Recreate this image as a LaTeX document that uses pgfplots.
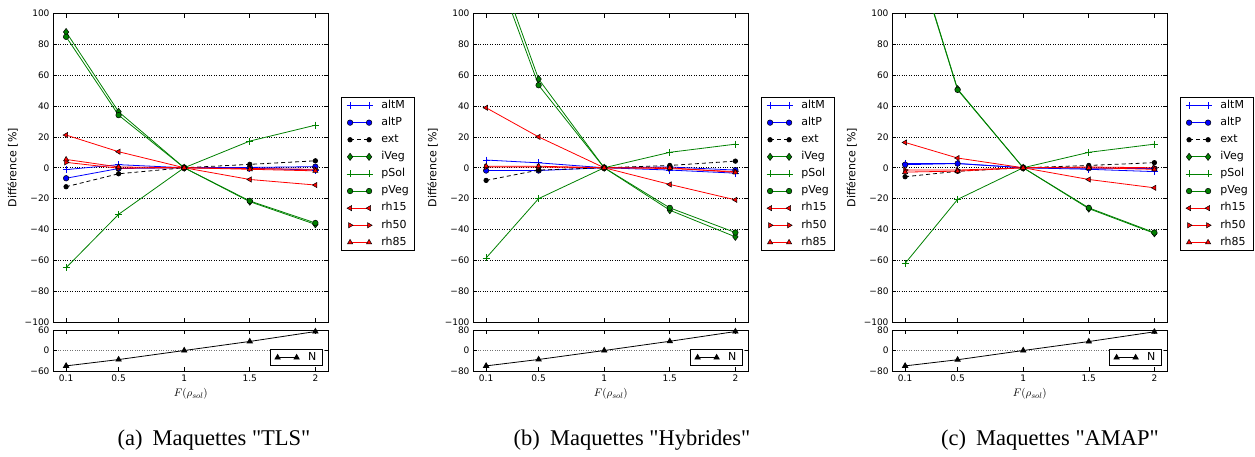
\documentclass[border=0pt]{standalone}
\usepackage{fontspec}
\setmainfont{DejaVu Sans}
\newfontfamily\capfont{Liberation Serif}
\usepackage{graphicx}
\usepackage{pgfplots}
\usepackage{pgfplotstable}
\pgfplotsset{compat=1.18}

\definecolor{mgreen}{rgb}{0,0.5,0}
\definecolor{mblue}{rgb}{0,0,1}
\definecolor{mred}{rgb}{1,0,0}

\pgfplotstableread{
x   altM altP ext   iVeg  pSol  pVeg  rh15  rh50 rh85 N
0.1 -1.2 -6.8 -12.3 88    -64.8 84.9  21.2  3.5  5.4  -45
0.5 2.0  -0.5 -3.9  36.3  -30.2 34.1  10.4  -0.3 0.5  -26.5
1   0    0    0     0     0     0     0     0    0    0
1.5 -0.3 0.2  2.2   -22.0 17.3  -21.5 -7.6  -0.5 -1.0 26.5
2   -1.5 0.7  4.5   -36.7 27.6  -35.8 -11.2 -1.0 -2.0 55.5
}\tabA

\pgfplotstableread{
x   altM altP ext  iVeg  pSol  pVeg  rh15  rh50 rh85 N
0.1 5.0  -1.8 -8.2 152   -58.5 146   38.9  0.5  1.0  -60
0.5 3.2  -1.8 -1.5 57.5  -20.0 53.5  20.0  0.5  1.0  -35
1   0    0    0    0     0     0     0     0    0    0
1.5 -1.5 0.5  1.5  -27.5 10.0  -26.0 -10.8 -0.5 0.0  36
2   -3.5 -1.5 4.3  -44.8 15.3  -42.0 -20.8 -2.5 -3.0 74
}\tabB

\pgfplotstableread{
x   altM altP ext  iVeg  pSol  pVeg  rh15  rh50 rh85 N
0.1 2.8  2.0  -5.8 161   -62.0 160   16.4  -1.5 -2.8 -60
0.5 2.8  2.7  -2.3 51.0  -20.5 50.5  6.3   -1.5 -2.2 -36
1   0    0    0    0     0     0     0     0    0    0
1.5 -1.0 -0.3 1.5  -26.5 10.0  -26.0 -7.6  0.5  0.0  35
2   -2.5 -0.5 3.3  -42.5 15.3  -42.0 -13.0 0.0  -1.0 73
}\tabC

\pgfplotsset{
  common/.style={
    scale only axis, width=275.5pt, anchor=north west,
    xmin=0, xmax=2.1,
    xtick={0.1,0.5,1,1.5,2},
    tick align=inside, major tick length=4pt,
    tick style={black, line width=0.6pt},
    axis line style={line width=0.8pt},
    tick label style={font=\fontsize{9}{10}\selectfont},
    label style={font=\fontsize{11}{13}\selectfont},
    legend cell align=left,
    legend image code/.code={%
      \draw[mark repeat=2,mark phase=1,##1]
        plot coordinates {(0pt,0pt) (9.5pt,0pt) (19pt,0pt)};},
    legend style={draw=black, line width=0.8pt, fill=white,
      font=\fontsize{11}{12}\selectfont,
      nodes={inner sep=0.8pt, text height=8pt, text depth=2.5pt, line width=0.8pt},
      row sep=5pt, column sep=8pt, inner xsep=5pt, inner ysep=2pt},
  },
  mainax/.style={
    common, height=308.5pt,
    ymin=-100, ymax=100,
    xticklabels={},
    ytick={-100,-80,-60,-40,-20,0,20,40,60,80,100},
    yticklabels={−100,−80,−60,−40,−20,0,20,40,60,80,100},
    ymajorgrids,
    major grid style={black, dotted, line width=0.7pt},
    ylabel={Différence [\%]},
    legend style={at={(1.046,0.729)}, anchor=north west},
  },
  botax/.style={
    common, height=41pt,
    xticklabels={0.1,0.5,1,1.5,2},
    ymajorgrids,
    major grid style={black!55, dotted, line width=0.7pt},
    xlabel={$F(\rho_{sol})$},
    legend style={at={(0.978,0.122)}, anchor=south east},
  },
  sAltM/.style={mblue, line width=0.8pt, mark=+, mark size=3.5pt, mark options={solid, line width=0.7pt}},
  sAltP/.style={mblue, line width=0.8pt, mark=*, mark size=2.8pt, mark options={solid, fill=mblue, draw=black, line width=0.5pt}},
  sExt/.style={black, line width=0.8pt, dashed, dash pattern=on 4pt off 3pt, mark=*, mark size=2.2pt, mark options={solid, fill=black}},
  sIVeg/.style={mgreen, line width=0.8pt, mark=diamond*, mark size=3.6pt, mark options={solid, fill=mgreen, draw=black, line width=0.5pt}},
  sPSol/.style={mgreen, line width=0.8pt, mark=+, mark size=3.5pt, mark options={solid, line width=0.7pt}},
  sPVeg/.style={mgreen, line width=0.8pt, mark=*, mark size=2.8pt, mark options={solid, fill=mgreen, draw=black, line width=0.5pt}},
  sRh15/.style={mred, line width=0.8pt, mark=triangle*, mark size=3pt, mark options={solid, fill=mred, draw=black, line width=0.5pt, rotate=90}},
  sRh50/.style={mred, line width=0.8pt, mark=triangle*, mark size=3pt, mark options={solid, fill=mred, draw=black, line width=0.5pt, rotate=-90}},
  sRh85/.style={mred, line width=0.8pt, mark=triangle*, mark size=3pt, mark options={solid, fill=mred, draw=black, line width=0.5pt}},
  sN/.style={black, line width=0.8pt, mark=triangle*, mark size=3pt, mark options={solid, fill=black}},
}

% #1 table, #2 left x, #3 N range, #4 caption, #5 caption centre x
\newcommand{\panel}[5]{%
  \begin{axis}[mainax, at={(#2,-13.5pt)}]
    \addplot[sAltM] table[x=x,y=altM]{#1};
    \addplot[sAltP] table[x=x,y=altP]{#1};
    \addplot[sExt]  table[x=x,y=ext]{#1};
    \addplot[sIVeg] table[x=x,y=iVeg]{#1};
    \addplot[sPSol] table[x=x,y=pSol]{#1};
    \addplot[sPVeg] table[x=x,y=pVeg]{#1};
    \addplot[sRh15] table[x=x,y=rh15]{#1};
    \addplot[sRh50] table[x=x,y=rh50]{#1};
    \addplot[sRh85] table[x=x,y=rh85]{#1};
    \legend{altM,altP,ext,iVeg,pSol,pVeg,rh15,rh50,rh85}
  \end{axis}
  \begin{axis}[botax, at={(#2,-330pt)}, ymin=-#3, ymax=#3,
      ytick={-#3,0,#3}, yticklabels={−#3,0,#3}]
    \addplot[sN] table[x=x,y=N]{#1};
    \legend{N}
  \end{axis}
  \node[font=\capfont\fontsize{22.5}{25}\selectfont, inner sep=0pt] at (#5,-440pt) {#4};
}

\begin{document}
\begin{tikzpicture}
  \useasboundingbox (0pt,0pt) rectangle (1255pt,-456pt);
  \panel{\tabA}{53pt}{60}{(a)\hspace{0.45em}Maquettes "TLS"}{214pt}
  \panel{\tabB}{473pt}{80}{(b)\hspace{0.45em}Maquettes "Hybrides"}{632pt}
  \panel{\tabC}{892pt}{80}{(c)\hspace{0.45em}Maquettes "AMAP"}{1050pt}
\end{tikzpicture}
\end{document}
